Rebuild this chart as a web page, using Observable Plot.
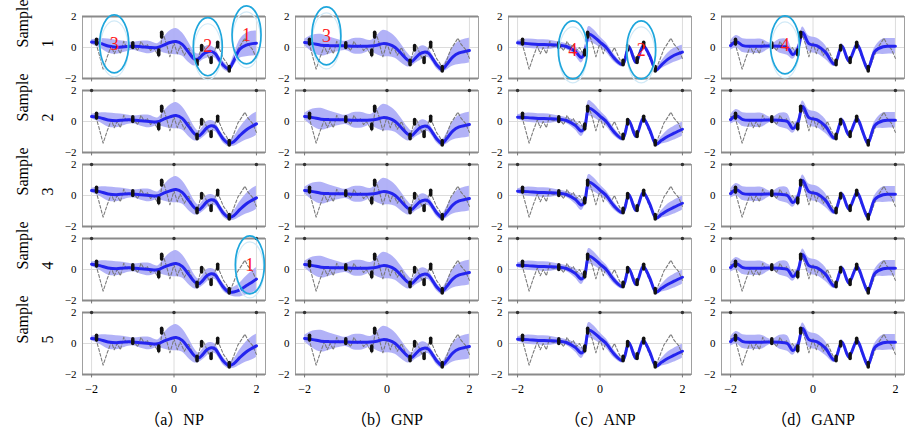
<!DOCTYPE html>
<html><head><meta charset="utf-8">
<script src="https://cdn.jsdelivr.net/npm/d3@7"></script>
<script src="https://cdn.jsdelivr.net/npm/@observablehq/plot@0.6"></script>
<style>
html,body{margin:0;padding:0;background:#fff;}
#chart{width:906px;height:434px;}
#chart svg, #chart svg text{font-family:"Liberation Serif","DejaVu Serif","Noto Sans CJK SC",serif !important;}
</style></head><body><div id="chart"></div>
<script>
const models = ["NP","GNP","ANP","GANP"];
const modelTitles = ["（a）NP","（b）GNP","（c）ANP","（d）GANP"];
const samples = [1,2,3,4,5];
const xTicks = [-2,0,2];
const yTicks = [-2,0,2];

// target function (gray dashed)
const targetX = [-2.0,-1.9,-1.82,-1.72,-1.62,-1.52,-1.45,-1.38,-1.3,-1.22,-1.15,-1.05,-0.97,-0.88,-0.8,-0.72,-0.65,-0.57,-0.5,-0.43,-0.37,-0.27,-0.18,-0.1,0.0,0.08,0.15,0.25,0.35,0.45,0.55,0.65,0.72,0.8,0.88,0.95,1.05,1.12,1.2,1.28,1.35,1.45,1.55,1.65,1.72,1.8,1.9,2.0];
const targetY = [0.3,0.35,-0.4,-1.4,-0.6,0.1,-0.4,0.0,-0.4,0.4,0.0,0.2,0.1,-0.2,0.4,0.0,0.2,-0.2,0.0,-0.3,-0.6,0.95,0.2,-0.6,0.3,-0.4,0.1,-0.5,0.0,-0.6,-1.15,-0.1,0.1,-0.4,-0.9,-0.4,0.2,-0.2,-0.7,-1.0,-1.45,-0.8,-0.1,0.3,0.6,0.2,-0.1,-0.7];

// context points (black)
const ctxX = [-1.88,-1.0,-0.37,-0.3,0.56,0.67,0.9,1.06,1.34];
const ctxY = [0.35,0.12,-0.35,0.8,-1.0,-0.05,-0.85,0.15,-1.4];

// NP / GNP knots
const smoothX = [-2.0,-1.8,-1.6,-1.4,-1.2,-1.0,-0.8,-0.6,-0.4,-0.25,-0.1,0.05,0.2,0.35,0.5,0.6,0.7,0.8,0.9,1.0,1.1,1.2,1.33,1.45,1.6,1.75,1.9,2.0];
const npMean  = [0.32,0.25,0.1,0.05,0.1,0.1,0.05,0.0,-0.02,0.15,0.3,0.38,0.2,-0.3,-0.8,-0.92,-0.7,-0.4,-0.28,-0.35,-0.75,-1.15,-1.42,-1.3,-0.9,-0.55,-0.3,-0.15];
const npHw    = [0.15,0.3,0.45,0.45,0.35,0.25,0.35,0.4,0.25,0.5,0.75,0.85,0.75,0.65,0.45,0.3,0.35,0.4,0.35,0.3,0.25,0.25,0.2,0.3,0.5,0.65,0.75,0.75];
const npMean1 = [0.35,0.28,0.1,0.02,0.05,0.08,0.05,0.0,0.0,0.15,0.32,0.38,0.2,-0.3,-0.75,-0.72,-0.45,-0.3,-0.25,-0.4,-0.8,-1.15,-1.38,-0.85,-0.1,0.15,0.25,0.27];
const npHw1   = [0.15,0.3,0.45,0.45,0.35,0.25,0.35,0.4,0.25,0.5,0.75,0.85,0.75,0.65,0.45,0.3,0.35,0.4,0.35,0.3,0.25,0.25,0.2,0.35,0.6,0.75,0.8,0.8];
const npMean4 = [0.34,0.25,0.1,0.05,0.1,0.1,0.05,0.0,-0.02,0.15,0.3,0.38,0.2,-0.3,-0.8,-0.92,-0.7,-0.4,-0.28,-0.35,-0.75,-1.15,-1.45,-1.45,-1.32,-1.05,-0.8,-0.62];
const npHw4   = [0.15,0.3,0.45,0.45,0.35,0.25,0.35,0.4,0.25,0.5,0.75,0.85,0.75,0.65,0.45,0.3,0.35,0.4,0.35,0.3,0.25,0.25,0.2,0.3,0.45,0.6,0.7,0.75];
const gnpMean = [0.32,0.25,0.15,0.12,0.12,0.1,0.08,0.08,0.1,0.15,0.25,0.2,0.0,-0.4,-0.8,-0.9,-0.65,-0.4,-0.3,-0.35,-0.7,-1.1,-1.4,-1.1,-0.6,-0.35,-0.25,-0.2];
const gnpHw   = [0.2,0.55,0.7,0.55,0.4,0.3,0.5,0.5,0.35,0.6,0.85,0.8,0.7,0.6,0.45,0.3,0.35,0.45,0.4,0.3,0.25,0.25,0.2,0.35,0.6,0.75,0.8,0.8];

// ANP knots
const anpX     = [-2.0,-1.75,-1.5,-1.25,-1.0,-0.8,-0.6,-0.45,-0.37,-0.27,-0.15,0.0,0.15,0.35,0.55,0.7,0.87,1.05,1.2,1.36,1.5,1.65,1.8,2.0];
const anpMean  = [0.28,0.25,0.2,0.18,0.15,0.05,-0.25,-0.62,-0.35,0.85,0.7,0.35,0.0,-0.7,-1.1,0.05,-0.95,0.2,-0.5,-1.45,-1.2,-0.95,-0.75,-0.5];
const anpMean1 = [0.3,0.25,0.2,0.18,0.15,0.05,-0.25,-0.65,-0.35,0.85,0.7,0.35,0.0,-0.7,-1.1,0.05,-0.95,0.1,-0.5,-1.45,-1.1,-0.75,-0.5,-0.3];
const anpHw    = [0.15,0.3,0.3,0.3,0.2,0.2,0.3,0.35,0.3,0.5,0.45,0.35,0.3,0.25,0.15,0.15,0.15,0.15,0.15,0.15,0.25,0.4,0.45,0.45];

// GANP knots
const ganpX    = [-2.0,-1.86,-1.7,-1.5,-1.25,-1.0,-0.8,-0.62,-0.49,-0.37,-0.25,-0.1,0.1,0.3,0.52,0.7,0.87,1.07,1.2,1.33,1.5,1.7,1.85,2.0];
const ganpMean = [0.12,0.37,0.12,0.08,0.08,0.1,0.08,0.0,-0.45,-0.1,0.97,0.25,0.1,-0.3,-1.07,0.1,-0.86,0.2,-0.6,-1.4,-0.25,0.05,0.08,0.08];
const ganpHw   = [0.3,0.4,0.45,0.45,0.45,0.15,0.45,0.5,0.3,0.2,0.35,0.5,0.5,0.45,0.15,0.15,0.15,0.15,0.15,0.15,0.25,0.5,0.5,0.5];

// annotations
const annModel  = ["NP","NP","NP","GNP","ANP","ANP","GANP","NP"];
const annSample = [1,1,1,1,1,1,1,4];
const annX      = [-1.45,0.82,1.76,-1.47,-0.66,1.0,-0.68,1.84];
const annY      = [0.24,0.05,0.82,0.75,-0.15,-0.15,0.17,0.3];
const annLabel  = ["3","2","1","3","4","2","4","1"];

// ---- build tables ----
function pick(model, s) {
  if (model === "NP") return s === 1 ? [smoothX, npMean1, npHw1] : s === 4 ? [smoothX, npMean4, npHw4] : [smoothX, npMean, npHw];
  if (model === "GNP") return [smoothX, gnpMean, gnpHw];
  if (model === "ANP") return s === 1 ? [anpX, anpMean1, anpHw] : [anpX, anpMean, anpHw];
  return [ganpX, ganpMean, ganpHw];
}
const curveRows = [];
for (const m of models) for (const s of samples) {
  const [xs, mu, hw] = pick(m, s);
  xs.forEach((x, i) => curveRows.push({model: m, sample: s, x, mean: mu[i], lo: mu[i] - hw[i], hi: mu[i] + hw[i]}));
}
const target = targetX.map((x, i) => ({x, y: targetY[i]}));
const context = ctxX.map((x, i) => ({x, y: ctxY[i]}));
const annots = annX.map((x, i) => ({model: annModel[i], sample: annSample[i], x, y: annY[i], label: annLabel[i]}));
const topDots = [];
for (const m of models) for (const s of samples.slice(1)) for (const t of xTicks) topDots.push({model: m, sample: s, x: t});
const xTickRows = [];
for (const m of models) for (const t of xTicks) xTickRows.push({model: m, sample: 5, x: t});
const titleRows = models.map((m, i) => ({model: m, sample: 5, title: modelTitles[i]}));
const rowLabels = samples.map(s => ({model: "NP", sample: s}));
const fmt = d => d < 0 ? "\u2212" + Math.abs(d) : String(d);

const ellipseSymbol = {draw(ctx, size) {
  const ry = Math.sqrt(size / Math.PI), rx = ry * 0.5, k = 0.5523;
  ctx.moveTo(rx, 0);
  ctx.bezierCurveTo(rx, k * ry, k * rx, ry, 0, ry);
  ctx.bezierCurveTo(-k * rx, ry, -rx, k * ry, -rx, 0);
  ctx.bezierCurveTo(-rx, -k * ry, -k * rx, -ry, 0, -ry);
  ctx.bezierCurveTo(k * rx, -ry, rx, -k * ry, rx, 0);
  ctx.closePath();
}};

const serif = "Liberation Serif";
const chart = Plot.plot({
  width: 906, height: 434,
  marginLeft: 80, marginRight: 0, marginTop: 15, marginBottom: 60,
  x: {domain: [-2.22, 2.22], axis: null},
  y: {domain: [-2, 2], axis: null},
  fx: {domain: models, paddingInner: 0.14, axis: null},
  fy: {domain: samples, paddingInner: 0.164, axis: null},
  style: {fontFamily: serif, fontSize: "12px", background: "white", color: "black"},
  marks: [
    Plot.ruleX(xTicks, {stroke: "#dcdcdc", strokeWidth: 1}),
    Plot.ruleY([0], {stroke: "#dcdcdc", strokeWidth: 1}),
    Plot.areaY(curveRows, {fx: "model", fy: "sample", x: "x", y1: "lo", y2: "hi", curve: "catmull-rom", fill: "#aaaaf6", fillOpacity: 0.9}),
    Plot.line(target, {x: "x", y: "y", stroke: "#7a7a7a", strokeWidth: 1.1, strokeDasharray: "3,2"}),
    Plot.line(curveRows, {fx: "model", fy: "sample", x: "x", y: "mean", curve: "catmull-rom", stroke: "#2424ee", strokeWidth: 3}),
    Plot.ruleX(context, {x: "x", y1: d => d.y - 0.15, y2: d => d.y + 0.15, stroke: "#111", strokeWidth: 3.5, strokeLinecap: "round"}),
    Plot.frame({stroke: "#a0a0a0", strokeWidth: 1}),
    Plot.ruleY([-2, 2], {stroke: "#8a8a8a", strokeWidth: 2}),
    Plot.ruleX(xTicks, {y1: -2, y2: -2.22, stroke: "#777"}),
    Plot.dot(topDots, {fx: "model", fy: "sample", x: "x", y: () => 2, r: 1.7, fill: "#333"}),
    Plot.text(yTicks, {y: d => d, text: fmt, frameAnchor: "left", dx: -6, textAnchor: "end", fontSize: 11, fontFamily: serif}),
    Plot.text(xTickRows, {fx: "model", fy: "sample", x: "x", text: d => fmt(d.x), frameAnchor: "bottom", dy: 18, fontSize: 12, fontFamily: serif}),
    Plot.text(titleRows, {fx: "model", fy: "sample", x: () => 0, text: "title", frameAnchor: "bottom", dy: 50, fontSize: 16, fontFamily: serif}),
    Plot.text(rowLabels, {fx: "model", fy: "sample", text: () => "Sample", frameAnchor: "left", dx: -60, rotate: -90, fontSize: 16, fontFamily: serif}),
    Plot.text(rowLabels, {fx: "model", fy: "sample", text: d => String(d.sample), frameAnchor: "left", dx: -35, rotate: -90, fontSize: 16, fontFamily: serif}),
    Plot.dot(annots, {fx: "model", fy: "sample", x: "x", y: "y", dy: 5, r: 28, symbol: ellipseSymbol, stroke: "#d2eaf7", strokeWidth: 1.2, fill: "none"}),
    Plot.dot(annots, {fx: "model", fy: "sample", x: "x", y: "y", r: 29, symbol: ellipseSymbol, stroke: "#1ea6dc", strokeWidth: 1.7, fill: "none"}),
    Plot.text(annots, {fx: "model", fy: "sample", x: "x", y: "y", text: "label", fill: "#ff1a1a", fontSize: 18, fontFamily: serif})
  ]
});
document.getElementById("chart").appendChild(chart);
</script>
</body></html>
